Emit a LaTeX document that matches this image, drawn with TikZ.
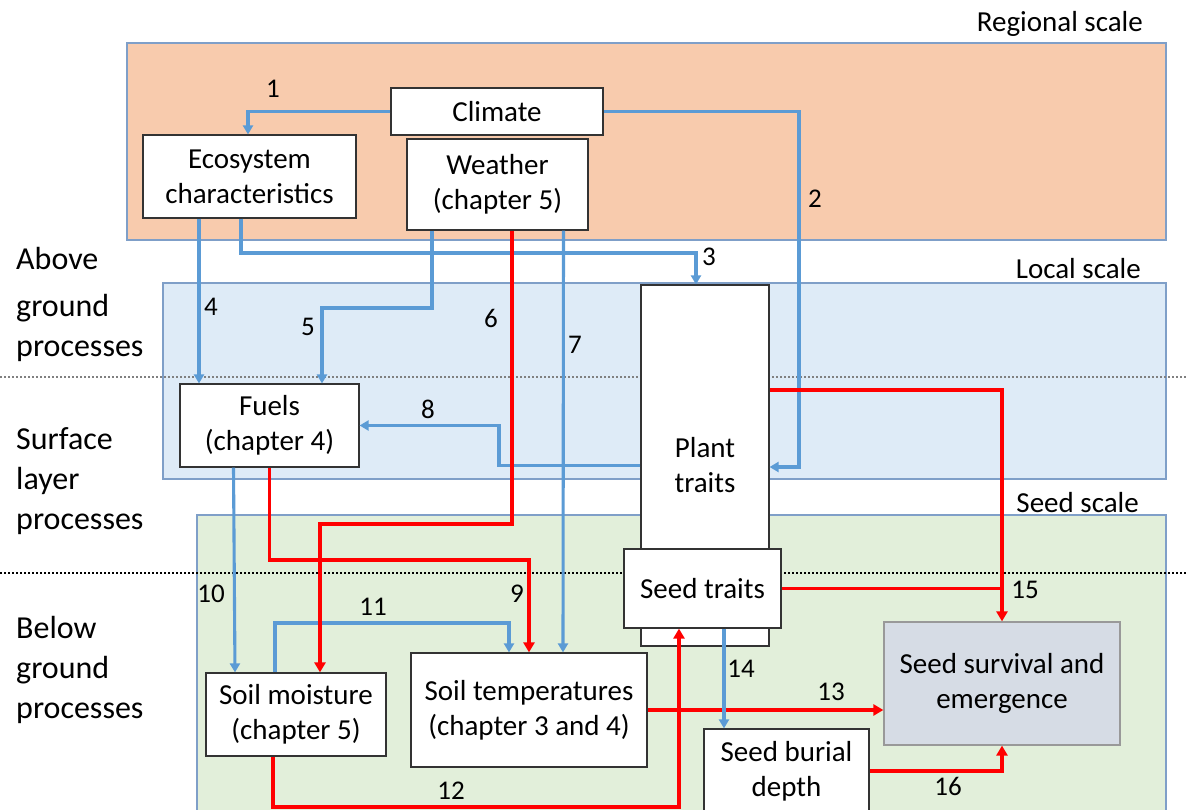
\documentclass[tikz,border=0pt]{standalone}
\usepackage{fontspec}
\setmainfont{Carlito}
\usetikzlibrary{arrows.meta}
\definecolor{orangebg}{HTML}{F8CBAD}
\definecolor{bluebg}{HTML}{DEEBF7}
\definecolor{greenbg}{HTML}{E2EFDA}
\definecolor{survbg}{HTML}{D6DCE5}
\definecolor{regionedge}{HTML}{7F9FC8}
\definecolor{arrblue}{HTML}{5B9BD5}
\definecolor{arrred}{HTML}{FF0000}
\begin{document}
\begin{tikzpicture}[x=1pt,y=-1pt,
 region/.style={draw=regionedge, line width=1.2pt},
 box/.style={draw=black!80, fill=white, line width=1.2pt, inner sep=0pt, align=center, font=\fontsize{29}{35}\selectfont},
 lbl/.style={font=\fontsize{29}{34}\selectfont, inner sep=0pt, anchor=east},
 num/.style={font=\fontsize{27}{32}\selectfont, inner sep=0pt},
 side/.style={font=\fontsize{32}{40}\selectfont, align=left, anchor=west, inner sep=0pt},
 bl/.style={draw=arrblue, line width=3.1pt, -{Triangle[length=9pt,width=10pt]}},
 rd/.style={draw=arrred, line width=3.5pt, -{Triangle[length=10pt,width=11pt]}},
 bline/.style={draw=arrblue, line width=3.1pt},
 rline/.style={draw=arrred, line width=3.5pt},
 dots/.style={line width=2pt, dash pattern=on 2pt off 2pt}
]
\useasboundingbox (0,0) rectangle (1187,810);
\fill[white] (0,0) rectangle (1187,810);
% regions
\draw[region, fill=orangebg] (127,43) rectangle (1166,240);
\draw[region, fill=bluebg] (163,283) rectangle (1166,479);
\draw[region, fill=greenbg] (197,515) rectangle (1166,820);
% scale labels
\node[lbl] (lreg) at (1143,24) {Regional scale};
\node[lbl] (lloc) at (1141,269) {Local scale};
\node[lbl] (lseed) at (1139,503) {Seed scale};
% dotted separators
\draw[dots, draw=gray] (0,377) -- (1187,377);
\draw[dots, draw=black] (0,573) -- (1187,573);
% side labels
\node[side] (sabove) at (16,304.5) {Above\\[7pt]ground\\processes};
\node[side] (ssurf) at (16,481) {Surface\\layer\\processes};
\node[side] (sbelow) at (16,670) {Below\\ground\\processes};
% boxes
\node[box, minimum width=212pt, minimum height=47pt] (clim) at (497,111.5) {Climate};
\node[box, minimum width=213pt, minimum height=83pt] (eco) at (249.5,176.5) {Ecosystem\\characteristics};
\node[box, minimum width=181pt, minimum height=91pt] (weather) at (497.5,184.5) {Weather\\(chapter 5)};
\node[box, minimum width=128pt, minimum height=361pt] (plant) at (705,465.5) {Plant\\traits};
\node[box, minimum width=157pt, minimum height=79pt] (seedt) at (702.5,588.5) {Seed traits};
\node[box, minimum width=179pt, minimum height=83pt] (fuels) at (269.5,425.5) {Fuels\\(chapter 4)};
\node[box, minimum width=180pt, minimum height=83pt] (moist) at (296,714.5) {Soil moisture\\(chapter 5)};
\node[box, minimum width=236pt, minimum height=114pt] (temp) at (529,710) {Soil temperatures\\(chapter 3 and 4)};
\node[box, draw=gray!80, fill=survbg, minimum width=236pt, minimum height=123pt] (surv) at (1002,683.5) {Seed survival and\\emergence};
\node[box, minimum width=165pt, minimum height=84pt] (burial) at (786.5,771) {Seed burial\\depth};
% blue connectors
\draw[bl] (clim.west) -| ([xshift=-1.5pt]eco.north);
\draw[bl] (clim.east) -| (799,467) -- ([yshift=-1.5pt]plant.east);
\draw[bl] ([xshift=-8.5pt]eco.south) -- (241,253) -| ([xshift=-9pt]plant.north);
\draw[bl] ([xshift=-50.5pt]eco.south) -- ([xshift=-70.5pt]fuels.north);
\draw[bl] ([xshift=-65.5pt]weather.south) -- (432,308) -| ([xshift=52.5pt]fuels.north);
\draw[bl] ([xshift=66pt]weather.south) -- ([xshift=34pt]temp.north);
\draw[bl] (plant.west) -| (499,425.5) -- (fuels.east);
\draw[bl] ([xshift=-36pt]fuels.south) -- ([xshift=-61pt]moist.north);
\draw[bl] ([xshift=-21pt]moist.north) -- (275,623) -| ([xshift=-20pt]temp.north);
% red connectors
\draw[rd] ([xshift=14.5pt]weather.south) -- (512,524) -| ([xshift=24pt]moist.north);
\draw[rd] (fuels.south) -- (269.5,560) -| (temp.north);
\draw[rd] ([xshift=-23pt]moist.south) -- (273,807) -| ([xshift=-23.5pt]seedt.south);
\draw[rd] (temp.east) -- (temp.east -| surv.west);
\draw[rd] ([yshift=75.5pt]plant.east) -| (surv.north);
\draw[rline] (seedt.east) -- (1002,588.5);
\draw[rd] (burial.east) -| (surv.south);
\draw[bl] ([xshift=21.5pt]seedt.south) -- ([xshift=-62.5pt]burial.north);
% numbers
\node[num] (n1) at (273,89) {1};
\node[num] (n2) at (815,199) {2};
\node[num] (n3) at (709,257) {3};
\node[num] (n4) at (211,307) {4};
\node[num] (n5) at (308,327) {5};
\node[num] (n6) at (491,318) {6};
\node[num] (n7) at (575,345) {7};
\node[num] (n8) at (428,409) {8};
\node[num] (n9) at (517,594) {9};
\node[num] (n10) at (211,594) {10};
\node[num] (n11) at (373,607) {11};
\node[num] (n12) at (451,791) {12};
\node[num] (n13) at (831,692) {13};
\node[num] (n14) at (741,669) {14};
\node[num] (n15) at (1025,590) {15};
\node[num] (n16) at (948,786) {16};
\end{tikzpicture}
\end{document}
